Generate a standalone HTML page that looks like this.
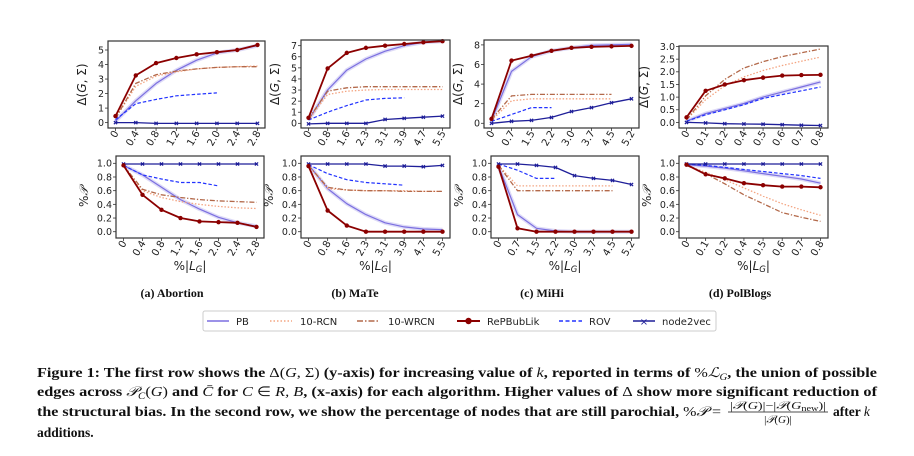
<!DOCTYPE html>
<html><head><meta charset="utf-8"><style>
html,body{margin:0;padding:0;background:#fff;width:914px;height:456px;overflow:hidden}
svg{display:block}
</style></head><body>
<svg id="fig" width="914" height="456" viewBox="0 0 914 456" xmlns="http://www.w3.org/2000/svg" font-family="'DejaVu Sans','Liberation Sans',sans-serif">
<g id="plots"></g>
<g font-family="'Liberation Serif',serif" font-weight="bold" font-size="12" text-anchor="middle" fill="#111">
<text x="172" y="297">(a) Abortion</text>
<text x="355" y="297">(b) MaTe</text>
<text x="542" y="297">(c) MiHi</text>
<text x="740" y="297">(d) PolBlogs</text>
</g>
<g>
<rect x="203" y="311" width="513" height="20" rx="2" fill="#fff" stroke="#ccc" stroke-width="1"/>
<g font-size="10" fill="#222">
<g><line x1="207" y1="321" x2="229" y2="321" stroke="#7b6fe0" stroke-width="1.5"/><text x="236" y="325">PB</text></g>
<g><line x1="270" y1="321" x2="292" y2="321" stroke="#f4a582" stroke-width="1.5" stroke-dasharray="1.5,2"/><text x="300" y="325">10-RCN</text></g>
<g><line x1="357" y1="321" x2="380" y2="321" stroke="#b3694a" stroke-width="1.5" stroke-dasharray="6,2,1.5,2"/><text x="388" y="325">10-WRCN</text></g>
<g><line x1="457" y1="321" x2="480" y2="321" stroke="#8b0000" stroke-width="2"/><circle cx="468.5" cy="321" r="3.2" fill="#8b0000"/><text x="487" y="325">RePBubLik</text></g>
<g><line x1="559" y1="321" x2="582" y2="321" stroke="#2233ff" stroke-width="1.5" stroke-dasharray="4,2.5"/><text x="589" y="325">ROV</text></g>
<g><line x1="633" y1="321" x2="655" y2="321" stroke="#1f1f99" stroke-width="1.5"/><text x="644" y="325" font-size="10" text-anchor="middle" fill="#1f1f99">×</text><text x="662" y="325">node2vec</text></g>
</g></g>
<g font-family="'Liberation Serif',serif" font-weight="bold" font-size="13.5" fill="#111">
<text x="37" y="377" textLength="840" lengthAdjust="spacingAndGlyphs">Figure 1: The first row shows the <tspan font-weight="normal">Δ(<tspan font-style="italic">G</tspan>, Σ)</tspan> (y-axis) for increasing value of <tspan font-style="italic" font-weight="normal">k</tspan>, reported in terms of <tspan font-weight="normal">%<tspan font-style="italic">ℒ<tspan font-size="9" dy="3">G</tspan></tspan></tspan><tspan dy="-3">, the union of possible</tspan></text>
<text x="37" y="396" textLength="840" lengthAdjust="spacingAndGlyphs">edges across <tspan font-weight="normal" font-style="italic">𝒫<tspan font-size="9" dy="3">C</tspan></tspan><tspan dy="-3" font-weight="normal">(<tspan font-style="italic">G</tspan>)</tspan> and <tspan font-weight="normal" font-style="italic">C̄</tspan> for <tspan font-weight="normal"><tspan font-style="italic">C</tspan> ∈ <tspan font-style="italic">R, B</tspan></tspan>, (x-axis) for each algorithm. Higher values of <tspan font-weight="normal">Δ</tspan> show more significant reduction of</text>
<text x="37" y="416" textLength="684" lengthAdjust="spacingAndGlyphs">the structural bias. In the second row, we show the percentage of nodes that are still parochial, <tspan font-weight="normal">%<tspan font-style="italic">𝒫</tspan> =</tspan></text>
<g font-weight="normal" font-size="11">
<text x="778" y="409" text-anchor="middle" textLength="96" lengthAdjust="spacingAndGlyphs">|<tspan font-style="italic">𝒫</tspan>(<tspan font-style="italic">G</tspan>)|−|<tspan font-style="italic">𝒫</tspan>(<tspan font-style="italic">G</tspan><tspan font-size="8" dy="2">new</tspan><tspan dy="-2">)|</tspan></text>
<line x1="728" y1="412" x2="828" y2="412" stroke="#111" stroke-width="0.8"/>
<text x="778" y="423" text-anchor="middle">|<tspan font-style="italic">𝒫</tspan>(<tspan font-style="italic">G</tspan>)|</text>
</g>
<text x="833" y="416">after <tspan font-weight="normal" font-style="italic">k</tspan></text>
<text x="37" y="437">additions.</text>
</g>
</svg>
<script>
// ---- x tick labels (categories) ----
const xtA = ["0","0.4","0.8","1.2","1.6","2.0","2.4","2.8"];
const xtB = ["0","0.8","1.6","2.3","3.1","3.9","4.7","5.5"];
const xtC = ["0","0.7","1.5","2.2","3.0","3.7","4.5","5.2"];
const xtD = ["0","0.1","0.2","0.4","0.5","0.6","0.7","0.8"];
// ---- y tick labels ----
const ytA = [0,1,2,3,4,5];
const ytB = [0,1,2,3,4,5,6,7];
const ytC = [0,2,4,6,8];
const ytD = ["0.0","0.5","1.0","1.5","2.0","2.5","3.0"];
const ytP = ["0.0","0.2","0.4","0.6","0.8","1.0"];
// ---- top row: Delta(G,Sigma) ----
const pbA = [0.1,1.5,2.7,3.6,4.3,4.8,5.0,5.3];
const rcnA = [0.3,2.5,3.2,3.5,3.7,3.8,3.85,3.9];
const wrcnA = [0.3,2.7,3.3,3.55,3.7,3.8,3.85,3.85];
const repA = [0.45,3.25,4.1,4.45,4.7,4.85,5.0,5.35];
const rovA = [0.2,1.3,1.6,1.85,1.95,2.05];
const n2vA = [0,0,-0.05,-0.05,-0.05,-0.05,-0.05,-0.05];
const pbB = [0.3,3.0,4.8,5.8,6.5,7.0,7.3,7.4];
const rcnB = [0.3,2.6,2.9,3.0,3.05,3.05,3.05,3.05];
const wrcnB = [0.4,2.9,3.2,3.3,3.3,3.3,3.3,3.3];
const repB = [0.5,4.95,6.35,6.8,7.0,7.15,7.3,7.4];
const rovB = [0.3,1.0,1.6,2.1,2.25,2.3];
const n2vB = [-0.05,0,0,0,0.35,0.45,0.55,0.65];
const pbC = [0.3,5.3,6.8,7.4,7.7,7.95,8.0,8.05];
const rcnC = [0.3,2.3,2.5,2.5,2.5,2.5,2.5];
const wrcnC = [0.4,2.8,2.95,2.95,2.95,2.95,2.95];
const repC = [0.45,6.4,6.9,7.4,7.7,7.8,7.85,7.9];
const rovC = [0.2,0.9,1.6,1.6];
const n2vC = [0,0.2,0.3,0.6,1.2,1.6,2.1,2.5];
const pbD = [0.05,0.35,0.55,0.75,1.0,1.2,1.4,1.6];
const rcnD = [0.1,0.9,1.45,1.8,2.05,2.25,2.42,2.58];
const wrcnD = [0.1,1.05,1.7,2.15,2.4,2.6,2.75,2.9];
const repD = [0.2,1.25,1.5,1.67,1.77,1.85,1.87,1.88];
const rovD = [0.05,0.3,0.5,0.7,0.95,1.1,1.25,1.4];
const n2vD = [0,-0.02,-0.05,-0.06,-0.07,-0.09,-0.11,-0.12];
// ---- bottom row: %P ----
const pbA2 = [0.97,0.83,0.65,0.47,0.33,0.21,0.13,0.08];
const rcnA2 = [0.97,0.6,0.5,0.44,0.4,0.37,0.35,0.34];
const wrcnA2 = [0.97,0.62,0.54,0.5,0.47,0.45,0.44,0.43];
const repA2 = [0.97,0.54,0.32,0.2,0.15,0.14,0.13,0.07];
const rovA2 = [0.97,0.83,0.77,0.72,0.72,0.67];
const n2vA2 = [0.99,0.99,0.99,0.99,0.99,0.99,0.99,0.99];
const pbB2 = [0.98,0.63,0.41,0.25,0.13,0.07,0.04,0.03];
const rcnB2 = [0.97,0.63,0.61,0.6,0.6,0.6,0.59,0.59];
const wrcnB2 = [0.97,0.65,0.61,0.6,0.6,0.59,0.59,0.59];
const repB2 = [0.96,0.31,0.09,0,0,0,0,0];
const rovB2 = [0.98,0.85,0.76,0.72,0.7,0.68];
const n2vB2 = [0.99,0.99,0.99,0.99,0.96,0.96,0.95,0.97];
const pbC2 = [0.96,0.25,0.05,0.01,0,0,0,0];
const rcnC2 = [0.97,0.67,0.67,0.67,0.67,0.67,0.67];
const wrcnC2 = [0.97,0.6,0.6,0.6,0.6,0.6,0.6];
const repC2 = [0.95,0.05,0,0,0,0,0,0];
const rovC2 = [0.99,0.9,0.78,0.78];
const n2vC2 = [0.99,0.99,0.97,0.94,0.82,0.78,0.75,0.69];
const pbD2 = [0.98,0.96,0.93,0.89,0.85,0.81,0.77,0.71];
const rcnD2 = [0.97,0.87,0.76,0.64,0.52,0.41,0.32,0.24];
const wrcnD2 = [0.97,0.85,0.7,0.54,0.41,0.28,0.21,0.15];
const repD2 = [0.98,0.84,0.78,0.71,0.68,0.66,0.66,0.65];
const rovD2 = [0.99,0.97,0.94,0.91,0.88,0.85,0.82,0.78];
const n2vD2 = [0.99,0.99,0.99,0.99,0.99,0.99,0.99,0.99];

const NS = "http://www.w3.org/2000/svg";
const root = document.getElementById("plots");
function mk(tag, attrs, parent){
  const e = document.createElementNS(NS, tag);
  for (const k in attrs) e.setAttribute(k, attrs[k]);
  parent.appendChild(e);
  return e;
}
const STY = {
  pb:{c:"#7b6fe0",w:1.2,d:"",band:true},
  rcn:{c:"#f4a582",w:1.3,d:"1.5,1.8"},
  wrcn:{c:"#b3694a",w:1.3,d:"5,1.8,1.3,1.8"},
  rep:{c:"#8b0000",w:1.8,d:"",mk:"o"},
  rov:{c:"#2233ff",w:1.2,d:"3.5,2"},
  n2v:{c:"#1f1f99",w:1.3,d:"",mk:"x"}
};
function panel(name, box, ylim, yt, xt, series, ylabel, xlabel){
  const g = mk("g", {}, root);
  
  
  const [x0,y0,x1,y1] = box;
  const n = xt.length;
  const pad = 7.5;
  const X = i => x0 + pad + i*(x1-x0-2*pad)/(n-1);
  const Y = v => y1 - (v-ylim[0])/(ylim[1]-ylim[0])*(y1-y0);
  const sg = mk("g", {}, g);
  
  
  for (const [key, vals] of series){
    const s = STY[key];
    const pts = vals.map((v,i)=>X(i).toFixed(1)+","+Y(v).toFixed(1)).join(" ");
    if (s.band){
      const b = mk("polyline", {points:pts, fill:"none", stroke:s.c, "stroke-opacity":"0.25", "stroke-width":"4", "stroke-linejoin":"round"}, sg);
      
      
    }
    const l = mk("polyline", {points:pts, fill:"none", stroke:s.c, "stroke-width":s.w, "stroke-dasharray":s.d, "stroke-linejoin":"round"}, sg);
    
    
    if (s.mk){
      vals.forEach((v,i)=>{
        const cx = X(i), cy = Y(v);
        let m;
        if (s.mk==="o") m = mk("circle", {cx:cx, cy:cy, r:2.2, fill:s.c}, sg);
        else m = mk("path", {d:`M${cx-1.6},${cy-1.6}L${cx+1.6},${cy+1.6}M${cx-1.6},${cy+1.6}L${cx+1.6},${cy-1.6}`, stroke:s.c, "stroke-width":1.2}, sg);
        
        
      });
    }
  }
  const fr = mk("rect", {x:x0, y:y0, width:x1-x0, height:y1-y0, fill:"none", stroke:"#333", "stroke-width":"1.2"}, g);
  
  
  yt.forEach(t=>{
    const y = Y(parseFloat(t));
    mk("line", {x1:x0-3, y1:y, x2:x0, y2:y, stroke:"#333", "stroke-width":0.8}, g);
    const tx = mk("text", {x:x0-4, y:y+3.4, "font-size":"9.5", "text-anchor":"end", fill:"#222"}, g);
    tx.textContent = t;
    
    
  });
  xt.forEach((t,i)=>{
    const x = X(i);
    mk("line", {x1:x, y1:y1, x2:x, y2:y1+3, stroke:"#333", "stroke-width":0.8}, g);
    const tx = mk("text", {x:x+3.5, y:y1+5, "font-size":"10", "text-anchor":"end", fill:"#222", transform:`rotate(-60 ${x+3.5} ${y1+5})`}, g);
    tx.textContent = t;
    
    
  });
  const ly = (y0+y1)/2;
  const lx = x0 - (ylabel.w||26);
  const yl = mk("text", {x:lx, y:ly, "font-size":"12", "text-anchor":"middle", fill:"#222", transform:`rotate(-90 ${lx} ${ly})`}, g);
  yl.innerHTML = ylabel.t;
  
  
  if (xlabel){
    const xl = mk("text", {x:(x0+x1)/2, y:y1+32, "font-size":"12", "text-anchor":"middle", fill:"#222"}, g);
    xl.innerHTML = '%|<tspan font-style="italic">L</tspan><tspan font-style="italic" font-size="8.5" dy="2">G</tspan><tspan dy="-2">|</tspan>';
    
    
  }
}
const DL = '<tspan>Δ(</tspan><tspan font-style="italic">G</tspan><tspan>, Σ)</tspan>';
const PL = '%<tspan font-style="italic" font-family="Liberation Serif,serif">𝒫</tspan>';
const PY = [-0.092,1.107];
panel("panel-a-delta",[108,41,265,128],[-0.37,5.62],ytA,xtA,[["pb",pbA],["rcn",rcnA],["wrcn",wrcnA],["rov",rovA],["n2v",n2vA],["rep",repA]],{t:DL,w:22},false);
panel("panel-b-delta",[301,40,450,128],[-0.42,7.51],ytB,xtB,[["pb",pbB],["rcn",rcnB],["wrcn",wrcnB],["rov",rovB],["n2v",n2vB],["rep",repB]],{t:DL,w:22},false);
panel("panel-c-delta",[484,40,639,128],[-0.48,8.5],ytC,xtC,[["pb",pbC],["rcn",rcnC],["wrcn",wrcnC],["rov",rovC],["n2v",n2vC],["rep",repC]],{t:DL,w:22},false);
panel("panel-d-delta",[679,46,828,128],[-0.22,3.02],ytD,xtD,[["pb",pbD],["rcn",rcnD],["wrcn",wrcnD],["rov",rovD],["n2v",n2vD],["rep",repD]],{t:DL,w:31},false);
panel("panel-a-parochial",[116,156,264,238],PY,ytP,xtA,[["pb",pbA2],["rcn",rcnA2],["wrcn",wrcnA2],["rov",rovA2],["n2v",n2vA2],["rep",repA2]],{t:PL,w:28},true);
panel("panel-b-parochial",[301,156,450,238],PY,ytP,xtB,[["pb",pbB2],["rcn",rcnB2],["wrcn",wrcnB2],["rov",rovB2],["n2v",n2vB2],["rep",repB2]],{t:PL,w:28},true);
panel("panel-c-parochial",[491,156,639,238],PY,ytP,xtC,[["pb",pbC2],["rcn",rcnC2],["wrcn",wrcnC2],["rov",rovC2],["n2v",n2vC2],["rep",repC2]],{t:PL,w:28},true);
panel("panel-d-parochial",[679,156,828,238],PY,ytP,xtD,[["pb",pbD2],["rcn",rcnD2],["wrcn",wrcnD2],["rov",rovD2],["n2v",n2vD2],["rep",repD2]],{t:PL,w:28},true);
</script>
</body></html>
